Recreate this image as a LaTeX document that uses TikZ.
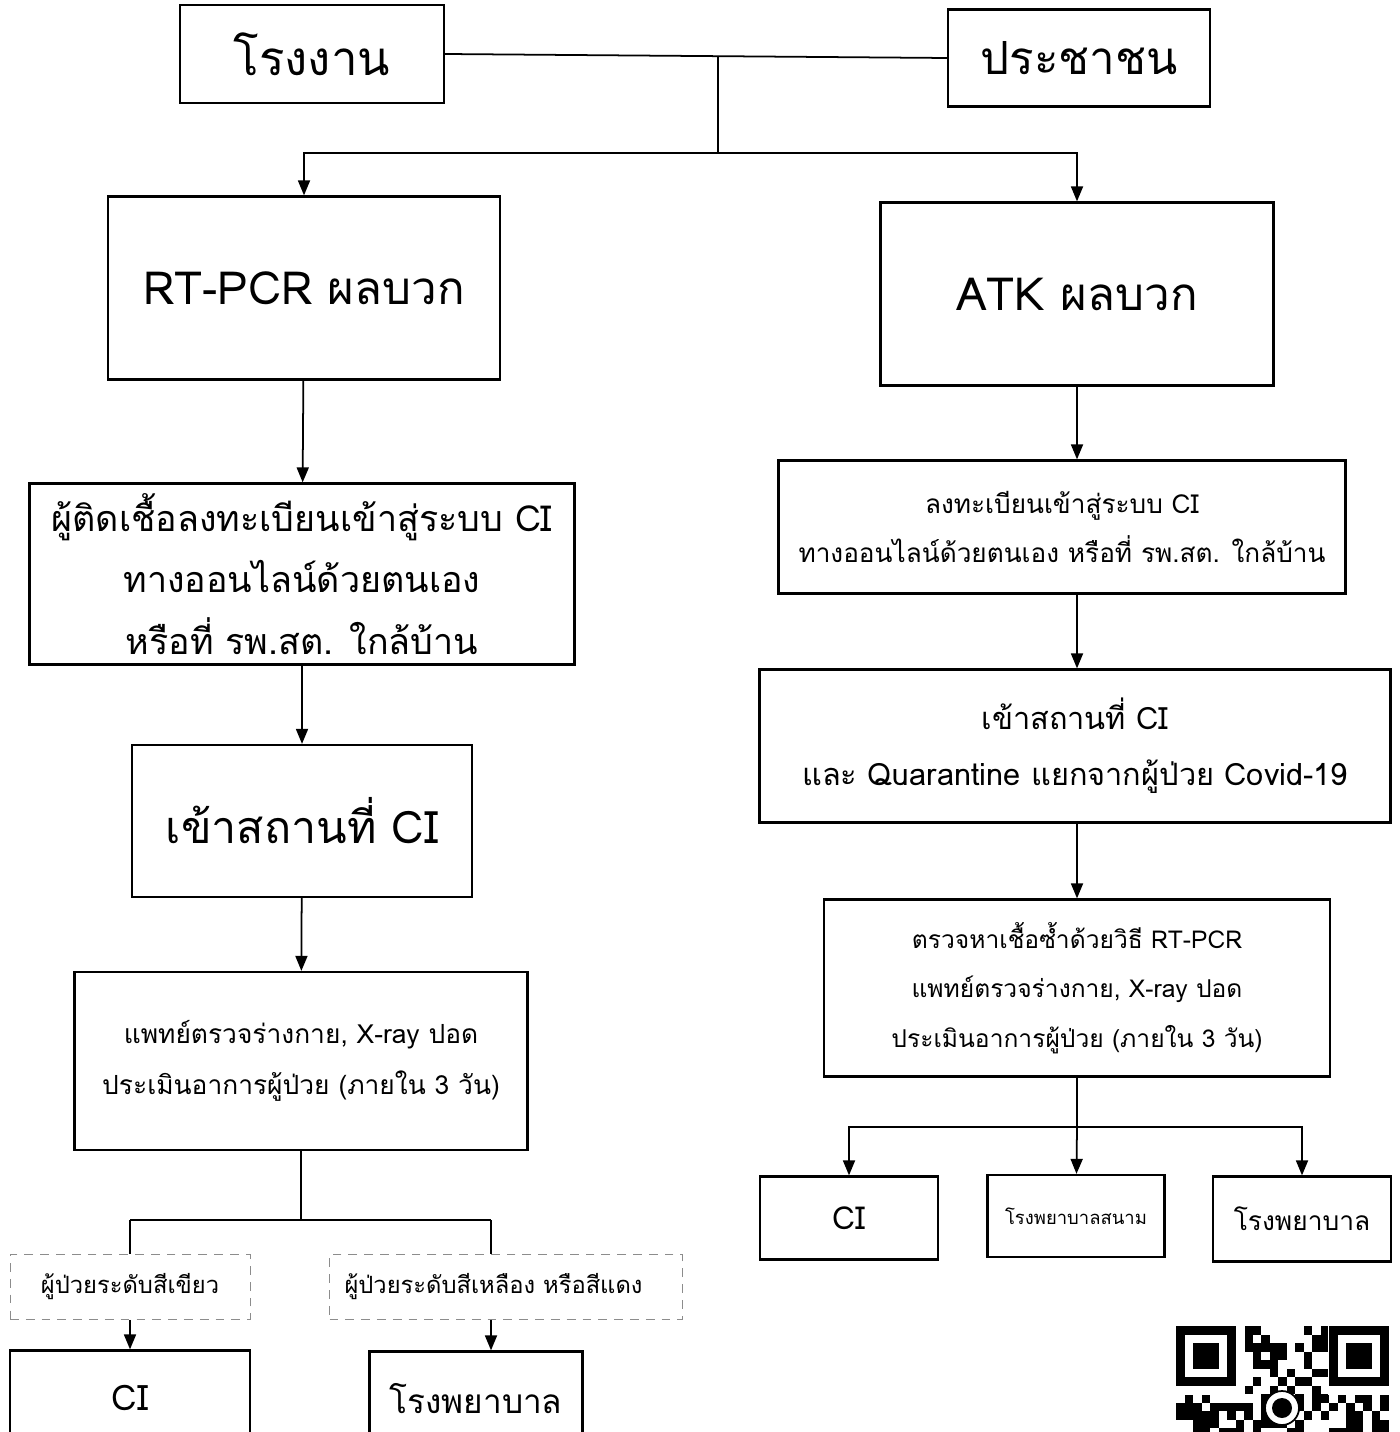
\documentclass[tikz,border=0pt]{standalone}
\usepackage{fontspec}
\newfontfamily\thaifont[Script=Thai]{Loma}
\usepackage{tikz}
\usetikzlibrary{arrows.meta,positioning}

\begin{document}
\begin{tikzpicture}[
  x=0.02cm, y=-0.02cm,
  box/.style={draw, line width=1.3pt, align=center, inner sep=2pt, font=\thaifont},
  dbox/.style={draw=black!45, dash pattern=on 5pt off 4pt, line width=0.5pt,
               align=center, font=\thaifont\fontsize{13.5}{16}\selectfont},
  arrow/.style={-{Triangle[length=3mm, width=2.4mm]}, line width=1pt},
  link/.style={line width=1pt},
]
  \useasboundingbox (0,0) rectangle (1399,1432);

  % ---- Sources ----
  \node[box, minimum width=5.28cm, minimum height=1.96cm, font=\thaifont\fontsize{27}{30}\selectfont]
    (fac) at (312,54) {โรงงาน};
  \node[box, minimum width=5.24cm, minimum height=1.94cm, font=\thaifont\fontsize{26}{30}\selectfont]
    (pub) at (1079,58) {ประชาชน};

  % ---- Left branch (RT-PCR) ----
  \node[box, minimum width=7.84cm, minimum height=3.66cm, font=\thaifont\fontsize{26}{30}\selectfont]
    (pcr) at (304,288) {RT-PCR ผลบวก};
  \node[box, minimum width=10.9cm, minimum height=3.62cm, font=\thaifont\fontsize{20.4}{35}\selectfont]
    (regL) at (302,574) {ผู้ติดเชื้อลงทะเบียนเข้าสู่ระบบ CI\\ทางออนไลน์ด้วยตนเอง\\หรือที่ รพ.สต. ใกล้บ้าน};
  \node[box, minimum width=6.8cm, minimum height=3.04cm, font=\thaifont\fontsize{25.5}{30}\selectfont]
    (ciL) at (302,821) {เข้าสถานที่ CI};
  \node[box, minimum width=9.06cm, minimum height=3.56cm, font=\thaifont\fontsize{15}{29}\selectfont]
    (docL) at (301,1061) {แพทย์ตรวจร่างกาย, X-ray ปอด\\ประเมินอาการผู้ป่วย (ภายใน 3 วัน)};
  \node[dbox, minimum width=4.8cm, minimum height=1.3cm] (green) at (130,1287) {ผู้ป่วยระดับสีเขียว};
  \node[dbox, minimum width=7.06cm, minimum height=1.3cm, text width=6.46cm, inner xsep=0.3cm, align=left]
    (yellow) at (506,1287) {ผู้ป่วยระดับสีเหลือง หรือสีแดง};
  \node[box, minimum width=4.8cm, minimum height=1.9cm, font=\thaifont\fontsize{20}{24}\selectfont]
    (endCI) at (130,1398) {CI};
  \node[box, minimum width=4.26cm, minimum height=1.9cm, font=\thaifont\fontsize{19}{24}\selectfont]
    (endHosp) at (476,1399) {โรงพยาบาล};

  % ---- Right branch (ATK) ----
  \node[box, minimum width=7.86cm, minimum height=3.66cm, font=\thaifont\fontsize{26}{30}\selectfont]
    (atk) at (1077,294) {ATK ผลบวก};
  \node[box, minimum width=11.34cm, minimum height=2.66cm, font=\thaifont\fontsize{14.9}{28}\selectfont]
    (regR) at (1062,527) {ลงทะเบียนเข้าสู่ระบบ CI\\ทางออนไลน์ด้วยตนเอง หรือที่ รพ.สต. ใกล้บ้าน};
  \node[box, minimum width=12.62cm, minimum height=3.06cm, font=\thaifont\fontsize{17.5}{32}\selectfont]
    (ciR) at (1075,746) {เข้าสถานที่ CI\\และ Quarantine แยกจากผู้ป่วย Covid-19};
  \node[box, minimum width=10.12cm, minimum height=3.54cm, font=\thaifont\fontsize{14}{28}\selectfont]
    (docR) at (1077,988) {ตรวจหาเชื้อซ้ำด้วยวิธี RT-PCR\\แพทย์ตรวจร่างกาย, X-ray ปอด\\ประเมินอาการผู้ป่วย (ภายใน 3 วัน)};
  \node[box, minimum width=3.56cm, minimum height=1.66cm, font=\thaifont\fontsize{18}{22}\selectfont]
    (outCI) at (849,1218) {CI};
  \node[box, minimum width=3.54cm, minimum height=1.64cm, font=\thaifont\fontsize{10.5}{12}\selectfont]
    (outField) at (1076,1216) {โรงพยาบาลสนาม};
  \node[box, minimum width=3.56cm, minimum height=1.7cm, font=\thaifont\fontsize{15}{20}\selectfont]
    (outHosp) at (1302,1219) {โรงพยาบาล};

  % ---- Junctions ----
  \coordinate (jTop) at (718,56);
  \coordinate (jMid) at (718,153);
  \coordinate (jL) at (301,1220);
  \coordinate (jLa) at (130,1220);
  \coordinate (jLb) at (491,1220);
  \coordinate (jR) at (1077,1127);

  % ---- Arrows ----
  \draw[link] (fac.east) -- (pub.west);
  \draw[link] (jTop) -- (jMid);
  \draw[arrow] (jMid) -| (pcr.north);
  \draw[arrow] (jMid) -| (atk.north);

  \draw[arrow] (pcr) -- (regL);
  \draw[arrow] (regL) -- (ciL);
  \draw[arrow] (ciL) -- (docL);
  \draw[link] (docL) -- (jL);
  \draw[link] (jLa) -- (jLb);
  \draw[link] (jLa) -- (green.north);
  \draw[link] (jLb) -- (jLb |- yellow.north);
  \draw[arrow] (green) -- (endCI);
  \draw[arrow] (jLb |- yellow.south) -- (jLb |- endHosp.north);

  \draw[arrow] (atk) -- (atk |- regR.north);
  \draw[arrow] (atk |- regR.south) -- (atk |- ciR.north);
  \draw[arrow] (atk |- ciR.south) -- (docR);
  \draw[link] (docR) -- (jR);
  \draw[arrow] (jR) -| (outCI.north);
  \draw[arrow] (jR) -- (outField);
  \draw[arrow] (jR) -| (outHosp.north);

  % ---- QR code ----
  \begin{scope}[shift={(1176,1326)}]
    \pgfmathsetseed{42}
    \foreach \r in {0,...,24}
      \foreach \c in {0,...,24} {
        \pgfmathrandominteger{\bit}{0}{1}
        \ifnum\bit=1
          \fill (\c*8.5,\r*8.5) rectangle ++(8.5,8.5);
        \fi
      }
    \foreach \fx/\fy in {0/0,153/0,0/153} {
      \fill[white] (\fx-1,\fy-1) rectangle ++(70,70);
      \fill (\fx,\fy) rectangle ++(59.5,59.5);
      \fill[white] (\fx+8.5,\fy+8.5) rectangle ++(42.5,42.5);
      \fill (\fx+17,\fy+17) rectangle ++(25.5,25.5);
    }
    \filldraw[fill=white, line width=1pt] (106,82) circle (17);
    \fill (106,82) circle (10);
  \end{scope}
\end{tikzpicture}
\end{document}
